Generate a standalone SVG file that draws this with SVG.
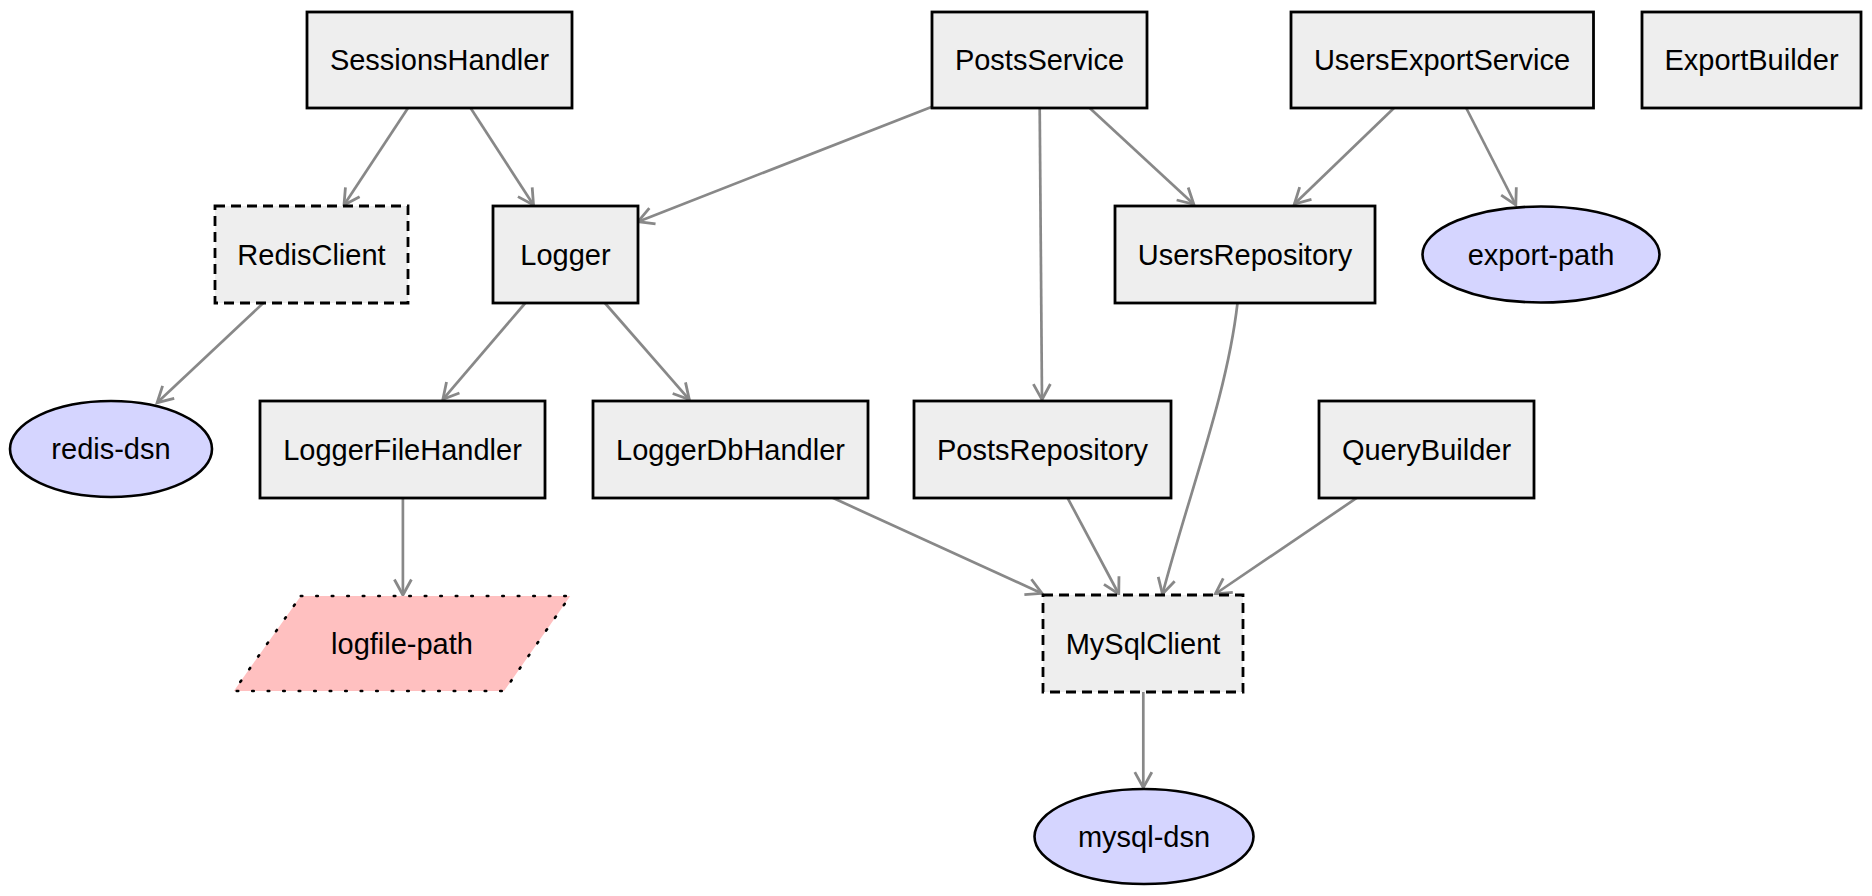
<svg xmlns="http://www.w3.org/2000/svg" width="1872" height="896" viewBox="0 0 1872 896">
<style>
.box{fill:#eeeeee;stroke:#000;stroke-width:2.8}
.dash{stroke-dasharray:10,6}
.ell{fill:#d5d5ff;stroke:#000;stroke-width:2.6}
.para{fill:#ffc0c0;stroke:#000;stroke-width:2.6;stroke-dasharray:1.5,14;stroke-linecap:round}
.lbl{font-family:"Liberation Sans",Arial,Helvetica,sans-serif;font-size:29px;fill:#000;text-anchor:middle}
.edge{fill:none;stroke:#888;stroke-width:2.7;marker-end:url(#vee)}
</style>
<defs>
<marker id="vee" markerUnits="userSpaceOnUse" markerWidth="22" markerHeight="22" viewBox="0 0 22 22" refX="17" refY="10" orient="auto">
<path d="M1.5,1.5 L17,10 L1.5,18.5" fill="none" stroke="#888" stroke-width="2.8"/>
</marker>
</defs>
<rect width="1872" height="896" fill="#fff"/>
<g id="connectors">
<path class="edge" d="M408,108 L344,205"/>
<path class="edge" d="M470.6,108 L533.5,205"/>
<path class="edge" d="M932,106.7 L638,221.7"/>
<path class="edge" d="M1039.7,108 L1042,399.6"/>
<path class="edge" d="M1089.7,108 L1193.8,204.3"/>
<path class="edge" d="M1394,108 L1294.4,204"/>
<path class="edge" d="M1466.2,108 L1515.8,205"/>
<path class="edge" d="M263.3,303 L157.1,402.7"/>
<path class="edge" d="M525.3,303 L442.9,399.3"/>
<path class="edge" d="M604.9,303 L689.3,399.6"/>
<path class="edge" d="M402.9,497.7 L402.9,595"/>
<path class="edge" d="M832.1,497.6 L1042,593.4"/>
<path class="edge" d="M1067.4,497.6 L1118.75,594"/>
<path class="edge" d="M1237.5,303 C1227,395 1190,490 1162.5,594"/>
<path class="edge" d="M1357.1,497.7 L1215.2,594"/>
<path class="edge" d="M1143.3,692 L1143.3,787.7"/>
</g>
<g id="SessionsHandler"><rect class="box" x="307" y="12" width="265" height="96"/><text class="lbl" x="439.5" y="70">SessionsHandler</text></g>
<g id="PostsService"><rect class="box" x="932" y="12" width="215" height="96"/><text class="lbl" x="1039.5" y="70">PostsService</text></g>
<g id="UsersExportService"><rect class="box" x="1291" y="12" width="302.5" height="96"/><text class="lbl" x="1442" y="70">UsersExportService</text></g>
<g id="ExportBuilder"><rect class="box" x="1642" y="12" width="219" height="96"/><text class="lbl" x="1751.5" y="70">ExportBuilder</text></g>
<g id="RedisClient"><rect class="box dash" x="215" y="206" width="193" height="97"/><text class="lbl" x="311.5" y="264.5">RedisClient</text></g>
<g id="Logger"><rect class="box" x="493" y="206" width="145" height="97"/><text class="lbl" x="565.5" y="264.5">Logger</text></g>
<g id="UsersRepository"><rect class="box" x="1115" y="206" width="260" height="97"/><text class="lbl" x="1245" y="264.5">UsersRepository</text></g>
<g id="export-path"><ellipse class="ell" cx="1541" cy="254.5" rx="118.5" ry="48"/><text class="lbl" x="1541" y="264.5">export-path</text></g>
<g id="redis-dsn"><ellipse class="ell" cx="111" cy="449" rx="101" ry="48"/><text class="lbl" x="111" y="459">redis-dsn</text></g>
<g id="LoggerFileHandler"><rect class="box" x="260" y="401" width="285" height="97"/><text class="lbl" x="402.5" y="459.5">LoggerFileHandler</text></g>
<g id="LoggerDbHandler"><rect class="box" x="593" y="401" width="275" height="97"/><text class="lbl" x="730.5" y="459.5">LoggerDbHandler</text></g>
<g id="PostsRepository"><rect class="box" x="914" y="401" width="257" height="97"/><text class="lbl" x="1042.5" y="459.5">PostsRepository</text></g>
<g id="QueryBuilder"><rect class="box" x="1319" y="401" width="215" height="97"/><text class="lbl" x="1426.5" y="459.5">QueryBuilder</text></g>
<g id="logfile-path"><polygon class="para" points="300.8,596 570.2,596 504.1,691 233.9,691"/><text class="lbl" x="402" y="653.5">logfile-path</text></g>
<g id="MySqlClient"><rect class="box dash" x="1043" y="595" width="200" height="97"/><text class="lbl" x="1143" y="653.5">MySqlClient</text></g>
<g id="mysql-dsn"><ellipse class="ell" cx="1144" cy="836.5" rx="109.5" ry="47.5"/><text class="lbl" x="1144" y="846.5">mysql-dsn</text></g>
</svg>
